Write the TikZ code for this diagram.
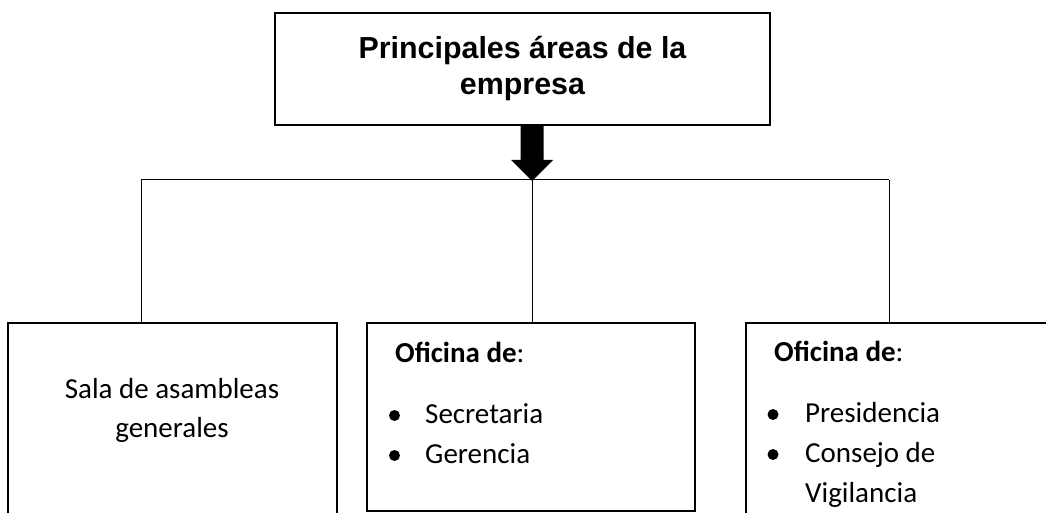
\documentclass[tikz,border=0pt]{standalone}
\usepackage{fontspec}
\setmainfont{Carlito}
\newfontfamily\arialfont{Liberation Sans}
\begin{document}
\begin{tikzpicture}[x=1pt,y=-1pt]
	\tikzstyle{area_title} = [draw, line width=2.5pt, outer sep=0pt, minimum width=495pt, minimum height=112pt, inner sep=0pt, align=center, font=\arialfont\bfseries\fontsize{30.4}{36}\selectfont]
	\tikzstyle{area_box} = [draw, line width=2.5pt, outer sep=0pt, anchor=north west, inner sep=0pt]
	\tikzstyle{box_text} = [anchor=base west, inner sep=0pt, font=\fontsize{29}{39}\selectfont]
	\tikzstyle{item_dot} = [circle, fill, inner sep=0pt, minimum size=11pt]
	\tikzstyle{edge} = [line width=1pt]
	\def\bustop{180}

	\useasboundingbox (0,0) rectangle (1046,513);
	\clip (0,0) rectangle (1046,513);

	\node[area_title] (title) at (522.5,69) {Principales áreas de la\\empresa};

	% block arrow
	\fill (title.south) ++(-2,0) -- ++(23,0) -- ++(0,35) -- ++(9.5,0) -- ++(-21,21) -- ++(-21,-21) -- ++(9.5,0) -- cycle;

	% the three areas
	\node[area_box, minimum width=329pt, minimum height=230pt] (sala) at (8,323) {};
	\node[area_box, minimum width=328pt, minimum height=188pt] (oficina_1) at (367,323) {};
	\node[area_box, minimum width=330pt, minimum height=230pt] (oficina_2) at (746,323) {};

	\coordinate (bus_l) at (141,\bustop);
	\coordinate (bus_r) at (889,\bustop);
	\draw[edge] (bus_l) -- (bus_r);

	\foreach \x/\to in {141/sala, 532/oficina_1, 889/oficina_2} {
		\coordinate (drop_\to) at (\x,\bustop);
		\draw[edge] (drop_\to) -- (drop_\to |- \to.north);
	}

	\node[box_text, anchor=base, align=center] (sala_text) at (172,437) {Sala de asambleas\\generales};

	\node[box_text] (oficina_1_head) at (395,362) {\textbf{Oficina de}:};
	\foreach \name/\y/\item in {secretaria/423/Secretaria, gerencia/463/Gerencia} {
		\node[item_dot] (dot_\name) at (394.5,\y-7.5) {};
		\node[box_text] (\name) at (425,\y) {\item};
	}

	\node[box_text] (oficina_2_head) at (774,361) {\textbf{Oficina de}:};
	\foreach \name/\y/\item in {presidencia/422/Presidencia, consejo/462/Consejo de} {
		\node[item_dot] (dot_\name) at (773,\y-7.5) {};
		\node[box_text] (\name) at (805,\y) {\item};
	}
	\node[box_text] (vigilancia) at (805,502) {Vigilancia};

\end{tikzpicture}
\end{document}
